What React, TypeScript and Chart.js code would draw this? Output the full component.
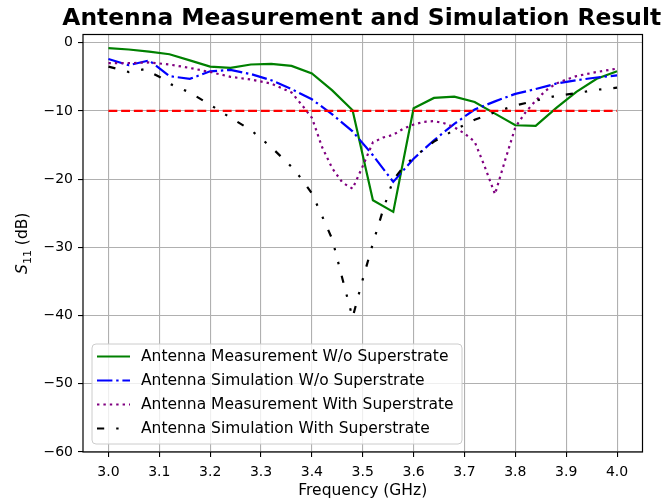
import React, { useEffect, useRef } from "react";
import { Chart, registerables } from "chart.js";

Chart.register(...registerables);

// ---------- data ----------
const freqGrid = [
  3.0, 3.04, 3.08, 3.12, 3.16, 3.2, 3.24, 3.28, 3.32, 3.36, 3.4, 3.44, 3.48,
  3.52, 3.56, 3.6, 3.64, 3.68, 3.72, 3.76, 3.8, 3.84, 3.88, 3.92, 3.96, 4.0,
];
const measNoSuper = [
  -0.8, -1.0, -1.3, -1.7, -2.6, -3.5, -3.7, -3.2, -3.1, -3.4, -4.5, -7.0, -9.9,
  -23.1, -24.8, -9.6, -8.1, -7.9, -8.7, -10.4, -12.1, -12.2, -9.6, -7.2, -5.3, -4.2,
];
const simNoSuper = [
  -2.4, -3.3, -2.6, -4.9, -5.3, -4.2, -4.0, -4.6, -5.5, -6.8, -8.3, -10.5, -13.0,
  -16.5, -20.4, -17.0, -14.3, -11.9, -9.8, -8.6, -7.5, -6.8, -6.0, -5.5, -5.1, -4.8,
];
const freqMeasSuper = [
  3.0, 3.04, 3.08, 3.12, 3.16, 3.2, 3.24, 3.28, 3.32, 3.36, 3.38, 3.4, 3.42, 3.44,
  3.46, 3.48, 3.5, 3.52, 3.54, 3.56, 3.58, 3.6, 3.62, 3.64, 3.66, 3.68, 3.7, 3.72,
  3.74, 3.76, 3.78, 3.8, 3.82, 3.84, 3.86, 3.88, 3.9, 3.92, 3.96, 4.0,
];
const measSuper = [
  -3.0, -3.0, -2.9, -3.2, -3.7, -4.3, -5.0, -5.4, -6.0, -7.3, -9.1, -11.0, -15.3, -18.4,
  -20.5, -21.4, -18.1, -14.6, -13.9, -13.5, -12.6, -12.0, -11.6, -11.5, -11.8, -12.4, -13.3, -14.5,
  -18.2, -22.2, -17.2, -12.4, -10.2, -8.5, -7.0, -6.0, -5.4, -4.9, -4.3, -3.8,
];
const freqSimSuper = [
  3.0, 3.04, 3.07, 3.1, 3.12, 3.16, 3.2, 3.24, 3.28, 3.32, 3.36, 3.38, 3.4, 3.42,
  3.44, 3.46, 3.48, 3.5, 3.52, 3.54, 3.56, 3.58, 3.6, 3.64, 3.68, 3.72, 3.76, 3.8,
  3.84, 3.88, 3.92, 3.96, 4.0,
];
const simSuper = [
  -3.5, -4.3, -3.9, -5.0, -6.0, -7.3, -9.1, -11.0, -12.8, -15.3, -18.2, -20.0, -22.1, -25.4,
  -28.8, -34.6, -40.3, -34.7, -29.4, -24.5, -20.1, -18.2, -16.8, -14.5, -12.8, -11.3, -10.2, -9.2,
  -8.5, -7.8, -7.4, -6.9, -6.6,
];
const thresholdFreq = [3.0, 4.0];
const thresholdLevel = [-10, -10];

const xTicks = [3.0, 3.1, 3.2, 3.3, 3.4, 3.5, 3.6, 3.7, 3.8, 3.9, 4.0];
const yTicks = [-60, -50, -40, -30, -20, -10, 0];

const seriesNames = [
  "Antenna Measurement W/o Superstrate",
  "Antenna Simulation W/o Superstrate",
  "Antenna Measurement With Superstrate",
  "Antenna Simulation With Superstrate",
];
const titleText = "Antenna Measurement and Simulation Result";
const xTitle = "Frequency (GHz)";

// ---------- styles ----------
const LW = 2.2;
const seriesColors = ["#008000", "#0000ff", "#800080", "#000000"];
const seriesDash: number[][] = [
  [],
  [15.4, 3.8, 2.4, 3.8],
  [2.4, 4.0],
  [7.2, 12, 2.4, 12, 2.4, 12],
];
const FONT = "'DejaVu Sans', 'Liberation Sans', sans-serif";

const pts = (xs: number[], ys: number[]) => xs.map((x, i) => ({ x, y: ys[i] }));

const decorPlugin = {
  id: "decor",
  afterDraw(chart: any) {
    const ctx: CanvasRenderingContext2D = chart.ctx;
    const a = chart.chartArea;
    ctx.save();

    // frame
    ctx.strokeStyle = "#000";
    ctx.lineWidth = 1.2;
    ctx.setLineDash([]);
    ctx.strokeRect(a.left, a.top, a.right - a.left, a.bottom - a.top);

    // title
    const cx = (a.left + a.right) / 2;
    ctx.fillStyle = "#000";
    ctx.font = `bold 23.4px ${FONT}`;
    ctx.textAlign = "center";
    ctx.textBaseline = "alphabetic";
    ctx.fillText(titleText, cx - 1, 24.5);

    // x title
    ctx.font = `15.5px ${FONT}`;
    ctx.fillText(xTitle, cx, 495);

    // y title: S_11 (dB)
    ctx.save();
    const cy = (a.top + a.bottom) / 2;
    ctx.translate(27, cy);
    ctx.rotate(-Math.PI / 2);
    ctx.textAlign = "left";
    ctx.textBaseline = "alphabetic";
    const fS = `italic 15.5px ${FONT}`;
    const fSub = `11px ${FONT}`;
    const fN = `15.5px ${FONT}`;
    ctx.font = fS;
    const wS = ctx.measureText("S").width;
    ctx.font = fSub;
    const wSub = ctx.measureText("11").width;
    ctx.font = fN;
    const wRest = ctx.measureText(" (dB)").width;
    let x0 = -(wS + wSub + wRest) / 2;
    ctx.font = fS;
    ctx.fillText("S", x0, 0);
    x0 += wS;
    ctx.font = fSub;
    ctx.fillText("11", x0, 3.5);
    x0 += wSub;
    ctx.font = fN;
    ctx.fillText(" (dB)", x0, 0);
    ctx.restore();

    // legend
    const bx = 92, by = 344, bw = 370, bh = 100, r = 4;
    ctx.beginPath();
    ctx.moveTo(bx + r, by);
    ctx.lineTo(bx + bw - r, by);
    ctx.quadraticCurveTo(bx + bw, by, bx + bw, by + r);
    ctx.lineTo(bx + bw, by + bh - r);
    ctx.quadraticCurveTo(bx + bw, by + bh, bx + bw - r, by + bh);
    ctx.lineTo(bx + r, by + bh);
    ctx.quadraticCurveTo(bx, by + bh, bx, by + bh - r);
    ctx.lineTo(bx, by + r);
    ctx.quadraticCurveTo(bx, by, bx + r, by);
    ctx.closePath();
    ctx.fillStyle = "rgba(255,255,255,0.8)";
    ctx.fill();
    ctx.strokeStyle = "#cccccc";
    ctx.lineWidth = 1;
    ctx.stroke();

    ctx.font = `15.5px ${FONT}`;
    ctx.textAlign = "left";
    ctx.textBaseline = "middle";
    seriesNames.forEach((name, i) => {
      const yy = 356.5 + i * 24;
      ctx.beginPath();
      ctx.strokeStyle = seriesColors[i];
      ctx.lineWidth = LW;
      ctx.lineCap = "butt";
      ctx.setLineDash(seriesDash[i]);
      ctx.moveTo(97, yy);
      ctx.lineTo(130, yy);
      ctx.stroke();
      ctx.setLineDash([]);
      ctx.fillStyle = "#000";
      ctx.fillText(name, 141, yy + 0.5);
    });

    ctx.restore();
  },
};

export default function App() {
  const ref = useRef<HTMLCanvasElement | null>(null);

  useEffect(() => {
    document.body.style.margin = "0";
    const canvas = ref.current;
    if (!canvas) return;

    const mk = (label: string, data: any[], i: number, order: number) => ({
      label,
      data,
      borderColor: seriesColors[i],
      backgroundColor: seriesColors[i],
      borderWidth: LW,
      borderDash: seriesDash[i],
      borderCapStyle: "butt" as const,
      pointRadius: 0,
      tension: 0,
      fill: false,
      order,
    });

    const chart = new Chart(canvas, {
      type: "line",
      data: {
        datasets: [
          mk(seriesNames[0], pts(freqGrid, measNoSuper), 0, 5),
          mk(seriesNames[1], pts(freqGrid, simNoSuper), 1, 4),
          mk(seriesNames[2], pts(freqMeasSuper, measSuper), 2, 3),
          mk(seriesNames[3], pts(freqSimSuper, simSuper), 3, 2),
          {
            label: "-10 dB",
            data: pts(thresholdFreq, thresholdLevel),
            borderColor: "#ff0000",
            backgroundColor: "#ff0000",
            borderWidth: LW,
            borderDash: [8.9, 3.8],
            borderCapStyle: "butt" as const,
            pointRadius: 0,
            fill: false,
            order: 1,
          },
        ],
      },
      options: {
        responsive: false,
        animation: false,
        layout: { padding: { left: 0, top: 34.5, right: 22.5, bottom: 0 } },
        plugins: {
          legend: { display: false },
          title: { display: false },
          tooltip: { enabled: false },
        },
        scales: {
          x: {
            type: "linear",
            min: 2.95,
            max: 4.05,
            afterBuildTicks: (s: any) => {
              s.ticks = xTicks.map((v) => ({ value: v }));
            },
            afterFit: (s: any) => {
              s.height = 51;
            },
            ticks: {
              autoSkip: false,
              maxRotation: 0,
              padding: 7,
              color: "#000",
              font: { family: FONT, size: 14 },
              callback: (v: any) => Number(v).toFixed(1),
            },
            grid: {
              color: "#b0b0b0",
              lineWidth: 1.1,
              tickColor: "#000",
              tickLength: 5,
              tickWidth: 1.1,
            },
            border: { display: false },
          },
          y: {
            type: "linear",
            min: -60,
            max: 1.2,
            afterBuildTicks: (s: any) => {
              s.ticks = yTicks.map((v) => ({ value: v }));
            },
            afterFit: (s: any) => {
              s.width = 83;
            },
            ticks: {
              autoSkip: false,
              padding: 5,
              color: "#000",
              font: { family: FONT, size: 14 },
              callback: (v: any) => (Number(v) < 0 ? "\u2212" + Math.abs(Number(v)) : String(v)),
            },
            grid: {
              color: "#b0b0b0",
              lineWidth: 1.1,
              tickColor: "#000",
              tickLength: 5,
              tickWidth: 1.1,
            },
            border: { display: false },
          },
        },
      },
      plugins: [decorPlugin],
    });

    return () => chart.destroy();
  }, []);

  return (
    <div style={{ width: 665, height: 503, background: "#fff" }}>
      <canvas ref={ref} width={665} height={503} style={{ display: "block" }} />
    </div>
  );
}
